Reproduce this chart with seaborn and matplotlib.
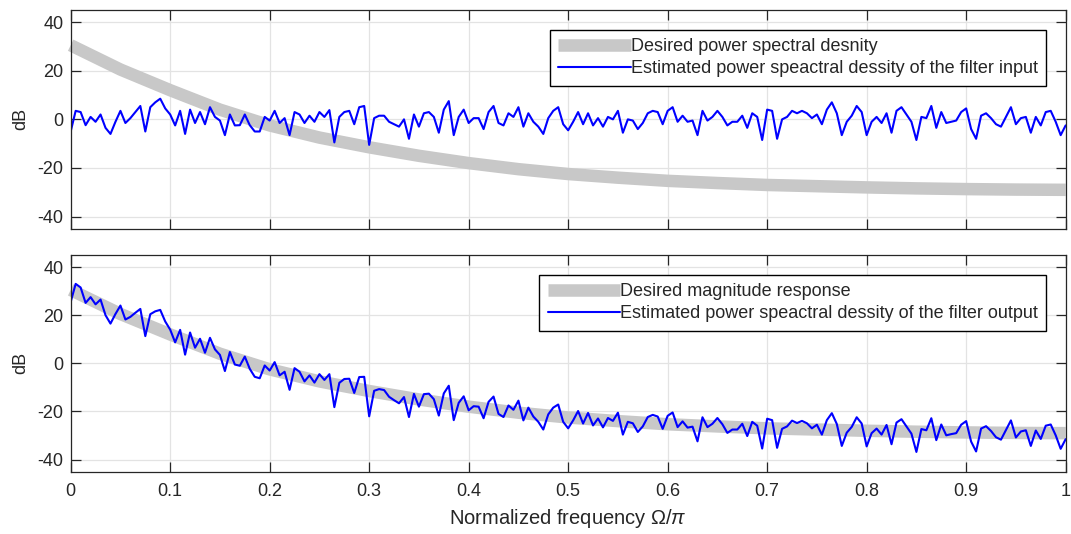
import numpy as np
import matplotlib
matplotlib.use("Agg")
import matplotlib.pyplot as plt
import seaborn as sns

# Desired curve (read every 0.05 of normalized frequency)
desired_freq = [0.0, 0.05, 0.1, 0.15, 0.2, 0.25, 0.3, 0.35, 0.4, 0.45, 0.5,
                0.55, 0.6, 0.65, 0.7, 0.75, 0.8, 0.85, 0.9, 0.95, 1.0]
desired_db = [30.5, 20.5, 12.0, 4.0, -2.5, -7.5, -11.5, -15.0, -18.0, -20.5, -22.5,
              -24.0, -25.3, -26.2, -27.0, -27.5, -28.0, -28.4, -28.7, -28.9, -29.0]

# Estimated PSD of the filter input (dB), 201 points over 0..1
psd_input = [
    -5, 3.5, 3, -2.4, 1, -1, 2, -3.5, -6, -1,
    3.5, -1.5, 0.5, 3, 5.5, -5, 5, 7, 8.5, 4.5,
    2, -2.5, 3.5, -6, 4, -1.5, 3, -2, 5, 1,
    -0.5, -6.5, 2, -2.5, -2.4, 2, -2.4, -5, -5, 1,
    -0.5, 3.5, -1.5, 0.5, -6.5, 3, 2, -1.5, 1.5, -1,
    3, 1, 3.8, -9.5, 1, 3, 3.5, -2, 5, 5.5,
    -10.5, 0.5, 1.5, 1.5, -1, -2, -3, 0, -8, 2,
    -3, 2.5, 3, 1, -5.5, 4, 7.5, -6.5, 1, 4,
    -1.5, 0.5, 0.5, -4, 3, 5.5, -1.5, -2.5, 2.5, 1,
    5, -3, 2.5, -1, -3, -6, 0.5, 3.5, 5, -2,
    -4.5, -1, 3, -2, 2.5, -2.5, 0.5, -3, 1, 0,
    3.5, -5.5, 0, -0.5, -4, -1.5, 2.5, 3.5, 3, -2,
    3.5, 5, -1, 1.5, -1, -0.5, -6.5, 3.5, -0.5, 1,
    3.5, 1, -2.5, -1, -1, 1.5, -3.5, 2.5, 1, -8.5,
    4, 3.5, -8, 0, 1, 3.5, 2.5, 3.5, 2.5, 0.5,
    2, -2, 4, 7, 2.5, -6.5, -1, 1.5, 5.5, 3,
    -6.5, -1, 1, -1.5, 2.5, -5.5, 3.5, 5, 2, -1,
    -8.5, 1, 0.5, 5.5, -3.5, 3, -1.5, -1, -0.5, 3,
    4.5, -4, -8, 1.5, 2.5, 0.5, -2, -3, 1, 5,
    -2, 0.5, 1, -5.5, 1, -2.5, 3, 3.5, -1, -6.5,
    -2.5,
]

# Estimated PSD of the filter output (dB), 201 points over 0..1
psd_output = [
    25.5, 33, 31.5, 25.1, 27.5, 24.5, 26.5, 20, 16.5, 20.5,
    24, 18.2, 19.3, 21, 22.6, 11.3, 20.4, 21.6, 22.2, 17.4,
    14, 8.7, 13.9, 3.6, 12.8, 6.5, 10.2, 4.4, 10.6, 5.8,
    3.5, -3.2, 4.7, -0.5, -1, 2.8, -2.3, -5.6, -6.2, -0.9,
    -3, 0.5, -5, -3.5, -11, -2, -3.5, -7.5, -5, -8,
    -4.5, -6.9, -4.5, -18.2, -8.1, -6.5, -6.4, -12.3, -5.7, -5.6,
    -22, -11.4, -10.7, -11.1, -13.9, -15.3, -16.6, -14, -22.3, -12.7,
    -18, -12.8, -12.6, -14.9, -21.7, -12.5, -9.3, -23.6, -16.4, -13.7,
    -19.5, -17.8, -18, -22.8, -16, -13.8, -21, -22.3, -17.5, -19.3,
    -15.5, -23.7, -18.4, -22.1, -24.3, -27.5, -21.2, -18.4, -17.1, -24.3,
    -27, -23.7, -19.8, -25, -20.6, -25.8, -22.9, -26.6, -22.7, -23.9,
    -20.5, -29.6, -24.3, -24.9, -28.5, -26.2, -22.3, -21.4, -22.1, -27.2,
    -21.8, -20.4, -26.5, -24.1, -26.7, -26.3, -32.4, -22.4, -26.5, -25.1,
    -22.7, -25.3, -28.9, -27.5, -27.5, -25.1, -30.2, -24.3, -25.9, -35.4,
    -23, -23.6, -35.1, -27.2, -26.2, -23.8, -24.8, -23.9, -24.9, -27,
    -25.5, -29.6, -23.6, -20.7, -25.2, -34.3, -28.8, -26.4, -22.4, -25,
    -34.5, -29, -27.1, -29.6, -25.6, -33.6, -24.6, -23.2, -26.2, -29.2,
    -36.8, -27.3, -27.8, -22.8, -31.9, -25.4, -29.9, -29.4, -29, -25.5,
    -24, -32.5, -36.6, -27.1, -26.1, -28.1, -30.7, -31.7, -27.7, -23.7,
    -30.8, -28.3, -27.8, -34.3, -27.9, -31.4, -25.9, -25.4, -29.9, -35.5,
    -31.5,
]

freq = np.linspace(0, 1, len(psd_input))

legend_top = ["Desired power spectral desnity",
              "Estimated power speactral dessity of the filter input"]
legend_bottom = ["Desired magnitude response",
                 "Estimated power speactral dessity of the filter output"]

sns.set_theme(style="whitegrid")
plt.rcParams["font.family"] = ["Liberation Sans", "DejaVu Sans"]
plt.rcParams["mathtext.fontset"] = "custom"
plt.rcParams["mathtext.rm"] = "Liberation Sans"
plt.rcParams["mathtext.it"] = "Liberation Sans:italic"
plt.rcParams["axes.unicode_minus"] = False

AX_COLOR = "#262626"
GRAY = "#c8c8c8"
FS = 13

fig = plt.figure(figsize=(10.71, 5.34), dpi=100)
ax1 = fig.add_axes([0.066, 0.5717, 0.929, 0.4096])
ax2 = fig.add_axes([0.066, 0.1167, 0.929, 0.4058])


def draw_panel(ax, est, labels):
    sns.lineplot(x=desired_freq, y=desired_db, ax=ax, color=GRAY, linewidth=9,
                 label=labels[0], clip_on=False, solid_capstyle="butt")
    sns.lineplot(x=freq, y=est, ax=ax, color="#0000ff", linewidth=1.5, label=labels[1])
    ax.set_xlim(0, 1)
    ax.set_ylim(-45, 45)
    ax.set_xticks(np.arange(0, 1.01, 0.1))
    ax.set_yticks([-40, -20, 0, 20, 40])
    ax.grid(True, color="#e3e3e3", linewidth=0.9)
    ax.set_facecolor("white")
    for sp in ax.spines.values():
        sp.set_visible(True)
        sp.set_color(AX_COLOR)
        sp.set_linewidth(0.9)
    ax.tick_params(direction="in", length=7, width=0.9, color=AX_COLOR,
                   labelcolor=AX_COLOR, labelsize=FS, top=True, right=True,
                   left=True, bottom=True, pad=5)
    ax.set_ylabel("dB", fontsize=FS, color=AX_COLOR, labelpad=6)
    leg = ax.legend(loc="upper right", fontsize=FS, handlelength=4.0,
                    borderaxespad=1.1, frameon=True, fancybox=False,
                    framealpha=1, edgecolor="black", borderpad=0.45,
                    labelspacing=0.3, handletextpad=0.0)
    leg.get_frame().set_linewidth(1.0)


draw_panel(ax1, psd_input, legend_top)
draw_panel(ax2, psd_output, legend_bottom)

ax1.set_xticklabels([])
ax1.set_xlabel("")
ax2.set_xticklabels(["0", "0.1", "0.2", "0.3", "0.4", "0.5", "0.6", "0.7", "0.8", "0.9", "1"])
ax2.tick_params(axis="x", pad=8)
ax2.set_xlabel(r"Normalized frequency $\Omega/\pi$", fontsize=14.5, color=AX_COLOR, labelpad=5)

fig.savefig("out.png", dpi=100)
